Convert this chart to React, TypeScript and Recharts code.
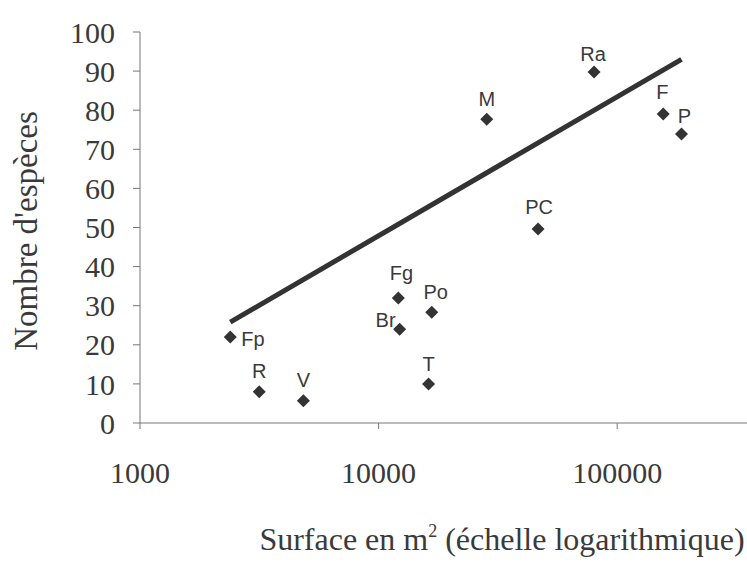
import React from 'react';
import { ScatterChart, Scatter, XAxis, YAxis } from 'recharts';

const siteNames = ['Fp', 'R', 'V', 'Fg', 'Br', 'Po', 'T', 'M', 'PC', 'Ra', 'F', 'P'];
const surfaces = [2390, 3160, 4840, 12100, 12250, 16700, 16200, 28400, 46600, 80000, 156000, 186000];
const speciesCounts = [22, 8, 5.7, 32, 24, 28.3, 10, 77.7, 49.6, 89.8, 79, 73.9];

const trendSurfaces = [2390, 186000];
const trendCounts = [25.8, 93];

const xTicks = [1000, 10000, 100000];
const yTicks = [0, 10, 20, 30, 40, 50, 60, 70, 80, 90, 100];

const points = siteNames.map((name, i) => ({ name, x: surfaces[i], y: speciesCounts[i] }));
const trend = trendSurfaces.map((x, i) => ({ x, y: trendCounts[i] }));

// label offsets [dx, dy, anchor] relative to marker
const labelOffsets: Record<string, [number, number, string]> = {
  Fp: [11, 2, 'start'],
  R: [0, -21, 'middle'],
  V: [0, -21, 'middle'],
  Fg: [3, -25, 'middle'],
  Br: [-14, -9, 'middle'],
  Po: [4, -20, 'middle'],
  T: [0, -20, 'middle'],
  M: [0, -20, 'middle'],
  PC: [1, -22, 'middle'],
  Ra: [-1, -18, 'middle'],
  F: [-1, -22, 'middle'],
  P: [3, -18, 'middle'],
};

const INK = '#3a3a3a';
const SERIF = '"Liberation Serif", "DejaVu Serif", serif';
const SANS = '"Liberation Sans", Arial, sans-serif';

const PointShape = (props: any) => {
  const { cx, cy, payload } = props;
  if (cx == null || cy == null) return <g />;
  const r = 6.5;
  const off = labelOffsets[payload.name] || [0, -18, 'middle'];
  return (
    <g>
      <path d={`M${cx},${cy - r}L${cx + r},${cy}L${cx},${cy + r}L${cx - r},${cy}Z`} fill="#333" />
      <text
        x={cx + off[0]}
        y={cy + off[1]}
        textAnchor={off[2] as any}
        dominantBaseline="central"
        fontFamily={SANS}
        fontSize={20}
        fill={INK}
      >
        {payload.name}
      </text>
    </g>
  );
};

export default function App() {
  return (
    <div style={{ position: 'absolute', left: 0, top: 0, background: '#fff' }}>
      <ScatterChart width={747} height={564} margin={{ top: 32, right: 0, bottom: 11, left: 60 }}>
        <XAxis
          type="number"
          dataKey="x"
          scale="log"
          domain={[1000, 350000]}
          ticks={xTicks}
          allowDataOverflow
          tickSize={6}
          tickMargin={33}
          height={130}
          stroke="#777"
          tick={{ fill: INK, fontFamily: SERIF, fontSize: 30 }}
          label={{
            content: () => (
              <text x={502} y={550} textAnchor="middle" fontFamily={SERIF} fontSize={32} fill={INK}>
                Surface en m<tspan dy={-13} fontSize={18}>2</tspan>
                <tspan dy={13}> (échelle logarithmique)</tspan>
              </text>
            ),
          }}
        />
        <YAxis
          type="number"
          dataKey="y"
          domain={[0, 100]}
          ticks={yTicks}
          tickSize={7}
          tickMargin={18}
          width={80}
          stroke="#777"
          tick={{ fill: INK, fontFamily: SERIF, fontSize: 30 }}
          label={{
            content: () => (
              <text
                x={26}
                y={231}
                transform="rotate(-90, 26, 231)"
                textAnchor="middle"
                dominantBaseline="central"
                fontFamily={SERIF}
                fontSize={33}
                fill={INK}
              >
                Nombre d'espèces
              </text>
            ),
          }}
        />
        <Scatter
          data={trend}
          line={{ stroke: '#333', strokeWidth: 5 }}
          lineType="joint"
          shape={() => <g />}
          isAnimationActive={false}
        />
        <Scatter data={points} shape={PointShape} isAnimationActive={false} />
      </ScatterChart>
    </div>
  );
}
